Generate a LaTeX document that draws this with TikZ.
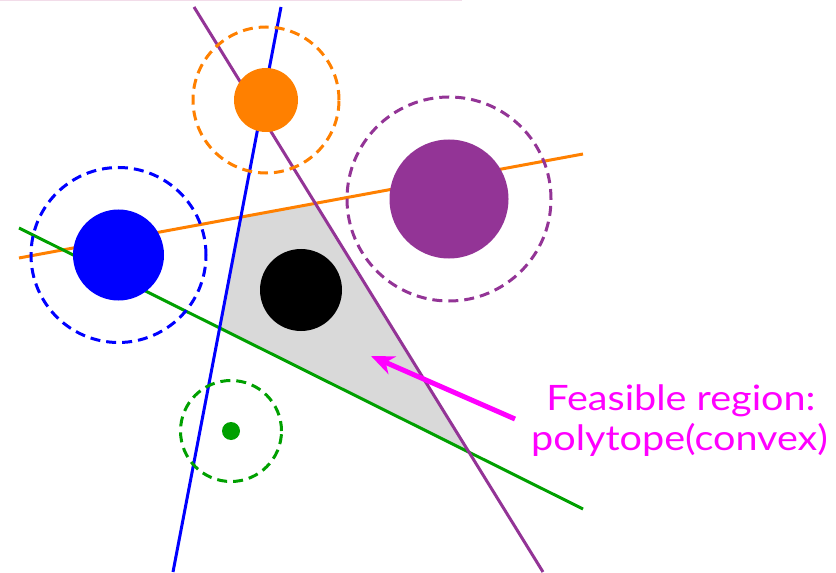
\documentclass[tikz,border=0pt]{standalone}
\usepackage{fontspec}
\setmainfont{Lato}
\newfontfamily\captionfont[FakeStretch=1.13]{Lato}
\usetikzlibrary{arrows.meta}
\definecolor{cOrange}{HTML}{FF8000}
\definecolor{cBlue}{HTML}{0000FF}
\definecolor{cPurple}{HTML}{933496}
\definecolor{cGreen}{HTML}{00A000}
\definecolor{cRegion}{HTML}{D9D9D9}
\definecolor{cLabel}{HTML}{FF00FF}
\definecolor{cRule}{HTML}{F2DCE9}
\begin{document}
\begin{tikzpicture}[x=1bp,y=-1bp,
  constraint/.style={line width=3bp},
  safety/.style={line width=3bp, dash pattern=on 10bp off 6bp},
  obstacle/.style={circle, draw=none, inner sep=0pt, minimum size=#1},
  caption/.style={text=cLabel, font=\captionfont\fontsize{35bp}{40bp}\selectfont, anchor=base, inner sep=0pt},
]
\useasboundingbox (0,0) rectangle (836,573);
\draw[cRule, line width=1.5bp] (0,0.75) -- (462,0.75);

% obstacle centres
\coordinate (cO) at (266,100);
\coordinate (cB) at (118.5,255);
\coordinate (cP) at (449,199);
\coordinate (cG) at (231,431);
\coordinate (cK) at (301,290);

% constraint line end points
\coordinate (pT) at (194,7);   \coordinate (pB) at (543,572);
\coordinate (bT) at (281,7);   \coordinate (bB) at (173,572);
\coordinate (oL) at (19,258);  \coordinate (oR) at (583,154);
\coordinate (gL) at (19,228);  \coordinate (gR) at (583,509);

% feasible region
\fill[cRegion]
  (intersection of oL--oR and bT--bB) --
  (intersection of oL--oR and pT--pB) --
  (intersection of gL--gR and pT--pB) --
  (intersection of gL--gR and bT--bB) -- cycle;

% half-plane constraints
\draw[constraint, cOrange] (oL) -- (oR);
\draw[constraint, cGreen]  (gL) -- (gR);
\draw[constraint, cPurple] (pT) -- (pB);
\draw[constraint, cBlue]   (bT) -- (bB);

% safety margins
\draw[safety, cOrange] (cO) circle[radius=73bp];
\draw[safety, cBlue]   (cB) circle[radius=87.5bp];
\draw[safety, cPurple] (cP) circle[radius=102bp];
\draw[safety, cGreen]  (cG) circle[radius=50.5bp];

% obstacles and robot
\node[obstacle=64bp, fill=cOrange] (obsO) at (cO) {};
\node[obstacle=91bp, fill=cBlue]   (obsB) at (cB) {};
\node[obstacle=119bp, fill=cPurple] (obsP) at (cP) {};
\node[obstacle=18bp, fill=cGreen]  (obsG) at (cG) {};
\node[obstacle=82bp, fill=black]   (robot) at (cK) {};

% annotation
\node[caption] (cap1) at (681,410) {Feasible region:};
\node[caption] (cap2) at (679.5,450) {polytope(convex)};
\coordinate (arrTail) at (515,419);
\coordinate (arrTip) at (371,356);
\draw[cLabel, line width=5bp, -{Stealth[length=23bp, width=19bp, inset=7bp]}] (arrTail) -- (arrTip);
\end{tikzpicture}
\end{document}
